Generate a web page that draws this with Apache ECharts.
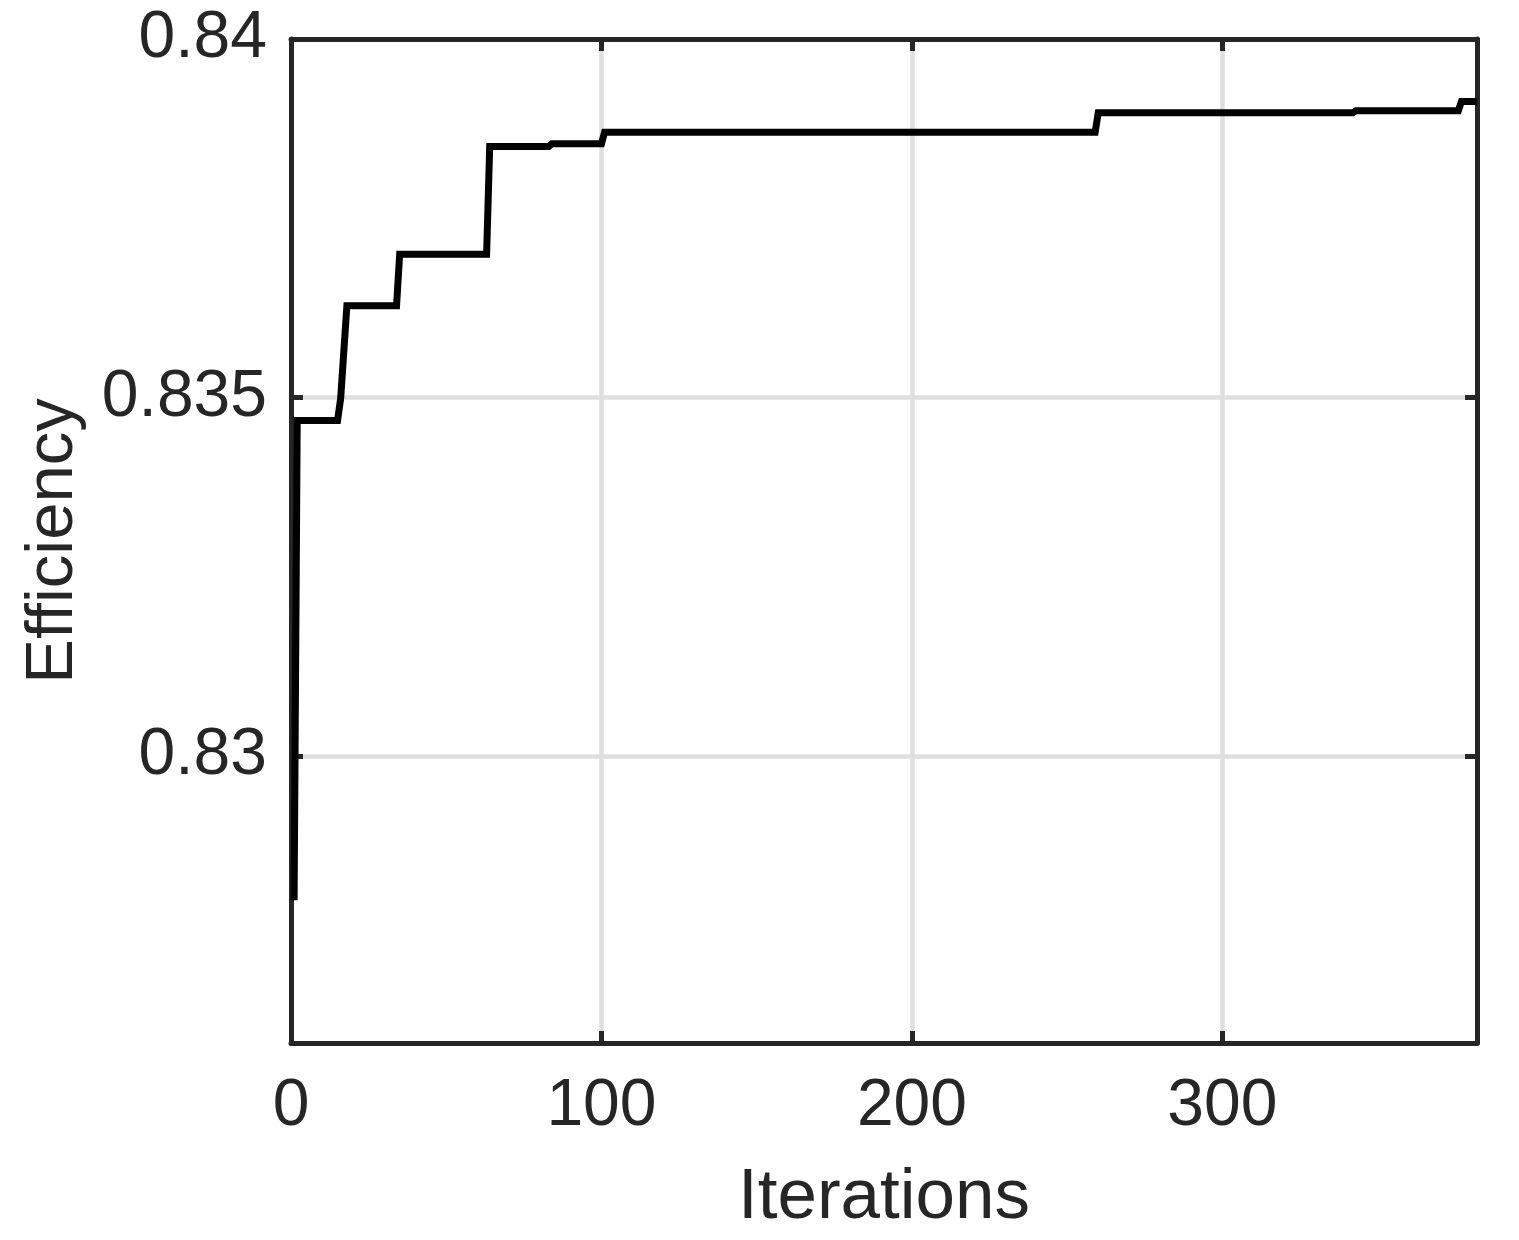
<!DOCTYPE html>
<html>
<head>
<meta charset="utf-8">
<script src="https://cdn.jsdelivr.net/npm/echarts@6/dist/echarts.min.js"></script>
<style>
html,body{margin:0;padding:0;background:#fff;}
#chart{width:1519px;height:1240px;}
</style>
</head>
<body>
<div id="chart"></div>
<script>
// Data
const iterations = [1, 2, 15, 16, 18, 34, 35, 63, 64, 83, 84, 100, 101, 259, 260, 342, 343, 376, 377, 382];
const efficiency = [0.82799, 0.83468, 0.83468, 0.83499, 0.83628, 0.83628, 0.83700, 0.83700, 0.83850, 0.83850, 0.83854, 0.83854, 0.83870, 0.83870, 0.83897, 0.83897, 0.83900, 0.83900, 0.83913, 0.83913];
const xTicks = [0, 100, 200, 300];
const yTicks = [0.83, 0.835, 0.84];
const xLabel = 'Iterations';
const yLabel = 'Efficiency';

const points = iterations.map((x, i) => [x, efficiency[i]]);

const ink = '#262626';
const font = '"Liberation Sans", Arial, sans-serif';

const chart = echarts.init(document.getElementById('chart'), null, {renderer: 'canvas'});

const baseAxisLine = {show: true, onZero: false, lineStyle: {color: ink, width: 5}};
const baseTick = {show: true, inside: true, length: 12, lineStyle: {color: ink, width: 5}};

chart.setOption({
  animation: false,
  backgroundColor: '#ffffff',
  grid: {left: 291, right: 42, top: 39, bottom: 197, containLabel: false},
  xAxis: [
    {
      type: 'value', position: 'bottom', min: 0, max: 382, interval: 100,
      axisLine: baseAxisLine,
      axisTick: Object.assign({}, baseTick, {customValues: xTicks}),
      axisLabel: {customValues: xTicks, fontSize: 66, color: ink, fontFamily: font, margin: 31},
      splitLine: {show: true, lineStyle: {color: '#dfdfdf', width: 4.5}},
      name: xLabel, nameLocation: 'middle', nameGap: 120,
      nameTextStyle: {fontSize: 71, color: ink, fontFamily: font}
    },
    {
      type: 'value', position: 'top', min: 0, max: 382, interval: 100,
      axisLine: baseAxisLine,
      axisTick: Object.assign({}, baseTick, {customValues: xTicks}),
      axisLabel: {show: false},
      splitLine: {show: false}
    }
  ],
  yAxis: [
    {
      type: 'value', position: 'left', min: 0.826, max: 0.84,
      axisLine: baseAxisLine,
      axisTick: Object.assign({}, baseTick, {customValues: yTicks}),
      axisLabel: {customValues: yTicks, fontSize: 66, color: ink, fontFamily: font, margin: 24,
                  formatter: v => String(v)},
      splitLine: {show: true, lineStyle: {color: '#dfdfdf', width: 4.5}},
      name: yLabel, nameLocation: 'middle', nameGap: 204,
      nameTextStyle: {fontSize: 67, color: ink, fontFamily: font}
    },
    {
      type: 'value', position: 'right', min: 0.826, max: 0.84,
      axisLine: baseAxisLine,
      axisTick: Object.assign({}, baseTick, {customValues: yTicks}),
      axisLabel: {show: false},
      splitLine: {show: false}
    }
  ],
  series: [{
    type: 'line',
    xAxisIndex: 0, yAxisIndex: 0,
    data: points,
    showSymbol: false,
    symbol: 'none',
    lineStyle: {color: '#000000', width: 7, join: 'miter'},
    z: 3
  }]
});
</script>
</body>
</html>
